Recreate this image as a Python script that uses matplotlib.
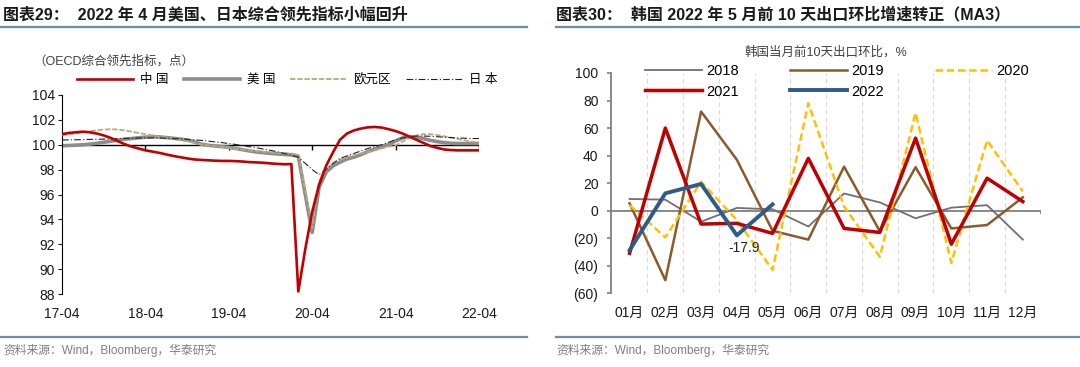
import matplotlib
matplotlib.use("Agg")
import matplotlib.pyplot as plt
import numpy as np

plt.rcParams["font.family"] = ["Liberation Sans", "Noto Sans CJK SC"]

# ---- left chart: OECD composite leading indicators, monthly 2017-04 .. 2022-04
month_ticks = ["17-04", "18-04", "19-04", "20-04", "21-04", "22-04"]
cli_china = [
    100.85, 100.95, 101.0, 101.05, 101.0, 100.9, 100.75, 100.55, 100.3, 100.05,
    99.85, 99.7, 99.55, 99.45, 99.35, 99.22, 99.1, 99.0, 98.9, 98.82,
    98.78, 98.75, 98.72, 98.7, 98.7, 98.68, 98.65, 98.6, 98.58, 98.55,
    98.5, 98.46, 98.43, 98.45, 88.2, 91.6, 94.6, 96.8, 98.3, 99.4,
    100.4, 100.9, 101.15, 101.3, 101.4, 101.43, 101.38, 101.25, 101.1, 100.9,
    100.65, 100.4, 100.15, 99.9, 99.75, 99.62, 99.57, 99.55, 99.55, 99.55,
    99.55,
]
cli_us = [
    99.92, 99.94, 99.97, 100.0, 100.05, 100.12, 100.2, 100.28, 100.36, 100.44,
    100.5, 100.56, 100.61, 100.65, 100.63, 100.58, 100.52, 100.46, 100.38, 100.24,
    100.05, 99.96, 99.9, 99.85, 99.8, 99.7, 99.6, 99.5, 99.42, 99.36,
    99.3, 99.26, 99.22, 99.18, 99.08, 96.0, 92.95, 96.6, 97.8, 98.3,
    98.6, 98.85, 99.0, 99.2, 99.45, 99.65, 99.85, 100.0, 100.3, 100.55,
    100.65, 100.62, 100.5, 100.35, 100.25, 100.17, 100.12, 100.1, 100.1, 100.1,
    100.1,
]
cli_euro = [
    100.75, 100.85, 100.92, 101.0, 101.08, 101.16, 101.22, 101.25, 101.22, 101.15,
    101.05, 100.95, 100.85, 100.75, 100.65, 100.56, 100.47, 100.38, 100.28, 100.15,
    100.03, 99.95, 99.88, 99.82, 99.76, 99.68, 99.6, 99.54, 99.48, 99.43,
    99.39, 99.36, 99.33, 99.3, 99.2, 96.3, 93.3, 97.1, 98.0, 98.5,
    98.8, 99.0, 99.15, 99.3, 99.4, 99.55, 99.7, 99.85, 99.95, 100.25,
    100.55, 100.75, 100.85, 100.85, 100.78, 100.68, 100.57, 100.46, 100.35, 100.25,
    100.15,
]
cli_japan = [
    100.38, 100.39, 100.4, 100.41, 100.43, 100.44, 100.45, 100.47, 100.49, 100.51,
    100.53, 100.54, 100.55, 100.55, 100.54, 100.52, 100.5, 100.47, 100.44, 100.4,
    100.35, 100.29, 100.23, 100.17, 100.1, 100.02, 99.93, 99.84, 99.75, 99.65,
    99.55, 99.43, 99.3, 99.15, 99.0, 98.5, 98.0, 97.6, 98.0, 98.5,
    98.9, 99.1, 99.3, 99.5, 99.7, 99.85, 100.0, 100.2, 100.4, 100.55,
    100.65, 100.7, 100.7, 100.68, 100.65, 100.6, 100.58, 100.55, 100.52, 100.5,
    100.5,
]

# ---- right chart: Korea first-10-day exports, m/m %, by year
months = ["01月", "02月", "03月", "04月", "05月", "06月",
          "07月", "08月", "09月", "10月", "11月", "12月"]
kr_2018 = [8.5, 8, -8, 2, 1, -11.5, 12.5, 6, -5.5, 2.2, 4, -21]
kr_2019 = [5.3, -50.5, 72, 37, -14.6, -21, 32, -15, 31.6, -12.9, -10.4, 9.7]
kr_2020 = [4, -19.4, 21, -6.8, -43, 78, 3, -33.5, 71, -38, 51, 14]
kr_2021 = [-31, 60, -9.7, -9.2, -16.5, 38, -12.9, -15.8, 52.7, -24.3, 23.6, 6.6]
kr_2022 = [-28.7, 12.6, 19.4, -17.9, 4.6]

W, H = 1080, 367
fig = plt.figure(figsize=(W / 100, H / 100), dpi=100)


def fx(px):
    return px / W


def fy(py):
    return 1 - py / H


head_color = "#6F8BA6"
for y_line in (27, 337):
    fig.add_artist(plt.Line2D([fx(0), fx(527)], [fy(y_line)] * 2, color=head_color, lw=1.6))
    fig.add_artist(plt.Line2D([fx(556), fx(1080)], [fy(y_line)] * 2, color=head_color, lw=1.6))

fig.text(fx(3), fy(14), "图表29：  2022 年 4 月美国、日本综合领先指标小幅回升",
         fontsize=11.5, fontweight="bold", va="center", color="#1a1a1a")
fig.text(fx(556), fy(14), "图表30：  韩国 2022 年 5 月前 10 天出口环比增速转正（MA3）",
         fontsize=11.5, fontweight="bold", va="center", color="#1a1a1a")
fig.text(fx(3), fy(350), "资料来源：Wind，Bloomberg，华泰研究", fontsize=8.5,
         va="center", color="#7f7f7f")
fig.text(fx(556), fy(350), "资料来源：Wind，Bloomberg，华泰研究", fontsize=8.5,
         va="center", color="#7f7f7f")

# ---------------- left
ax1 = fig.add_axes([fx(62), fy(294), fx(479 - 62), (294 - 95) / H])
x = np.arange(len(cli_china))
ax1.plot(x, cli_euro, color="#BBA97C", lw=1.3, ls=(0, (3, 1)), label="欧元区", zorder=3)
ax1.plot(x, cli_us, color="#8C8C8C", lw=2.6, label="美 国", zorder=2)
ax1.plot(x, cli_japan, color="#222222", lw=0.8, ls=(0, (6, 2, 1, 2)), label="日 本", zorder=4)
ax1.plot(x, cli_china, color="#C00000", lw=1.9, label="中 国", zorder=5)
ax1.axhline(100, color="black", lw=1.0, zorder=1)
tick_pos = np.arange(0, len(cli_china), 12)
ax1.vlines(tick_pos[1:], 99.6, 100, color="black", lw=1.0, zorder=1)
ax1.set_xlim(0, len(cli_china) - 1)
ax1.set_ylim(88, 104)
ax1.set_yticks(np.arange(88, 105, 2))
ax1.set_xticks(tick_pos)
ax1.set_xticklabels(month_ticks)
for s in ["top", "right", "bottom"]:
    ax1.spines[s].set_visible(False)
ax1.spines["left"].set_color("black")
ax1.tick_params(axis="y", length=3, pad=2, labelsize=10, colors="#1a1a1a")
ax1.tick_params(axis="x", length=0, pad=9, labelsize=10, colors="#1a1a1a")
fig.text(fx(33), fy(61), "（OECD综合领先指标，点）", fontsize=9, va="center", color="#404040")
h, l = ax1.get_legend_handles_labels()
order = [3, 1, 0, 2]
ax1.legend([h[i] for i in order], [l[i] for i in order], ncol=4, frameon=False,
           loc="center left", bbox_to_anchor=(fx(77), fy(80)), bbox_transform=fig.transFigure,
           fontsize=9, handlelength=4.5, handletextpad=0.55, columnspacing=1.2,
           borderpad=0, borderaxespad=0)

# ---------------- right
ax2 = fig.add_axes([fx(611), fy(293.3), fx(1040.7 - 611), (293.3 - 73) / H])
cx = np.arange(len(months))
bounds = np.arange(len(months)) + 0.5
ax2.vlines(bounds, -60, 100, color="#D9D9D9", lw=0.8, ls=(0, (4, 3)), zorder=0)
ax2.axhline(0, color="#7f7f7f", lw=1.3, zorder=1)
ax2.vlines(bounds[-1:], -2.5, 0, color="#7f7f7f", lw=1.3, zorder=1)
ax2.plot(cx, kr_2018, color="#707070", lw=1.3, label="2018", zorder=2)
ax2.plot(cx, kr_2019, color="#8B5A2B", lw=1.8, label="2019", zorder=3)
ax2.plot(cx, kr_2020, color="#FFC000", lw=1.8, ls=(0, (3, 1.5)), label="2020", zorder=3)
ax2.plot(cx, kr_2021, color="#C00000", lw=2.5, label="2021", zorder=4)
ax2.plot(cx[:len(kr_2022)], kr_2022, color="#2F5A8C", lw=2.8, label="2022", zorder=5)
ax2.annotate(f"{kr_2022[3]:.1f}", (cx[3], kr_2022[3]), textcoords="offset points",
             xytext=(5, -9), ha="center", va="center", fontsize=10, color="#262626")
ax2.set_xlim(-0.52, 11.5)
ax2.set_ylim(-60, 100)
yt = np.arange(-60, 101, 20)
ax2.set_yticks(yt)
ax2.set_yticklabels([f"({-v})" if v < 0 else f"{v}" for v in yt])
ax2.set_xticks(cx)
ax2.set_xticklabels(months)
for s in ["top", "right", "bottom"]:
    ax2.spines[s].set_visible(False)
ax2.spines["left"].set_color("#7f7f7f")
ax2.spines["left"].set_linewidth(1.3)
ax2.tick_params(axis="y", length=3, width=1.2, color="#7f7f7f", pad=6, labelsize=10,
                labelcolor="#1a1a1a")
ax2.tick_params(axis="x", length=0, pad=9, labelsize=10, labelcolor="#1a1a1a")
fig.text(fx(826), fy(52), "韩国当月前10天出口环比，%", fontsize=9, ha="center",
         va="center", color="#404040")
h, l = ax2.get_legend_handles_labels()
order = [0, 3, 1, 4, 2]
ax2.legend([h[i] for i in order], [l[i] for i in order], ncol=3, frameon=False,
           loc="upper left", bbox_to_anchor=(fx(645), fy(64)), bbox_transform=fig.transFigure,
           fontsize=10.5, handlelength=3.9, handletextpad=0.3, columnspacing=3.5,
           labelspacing=0.45, borderpad=0, borderaxespad=0)

fig.savefig("out.png", dpi=100)
